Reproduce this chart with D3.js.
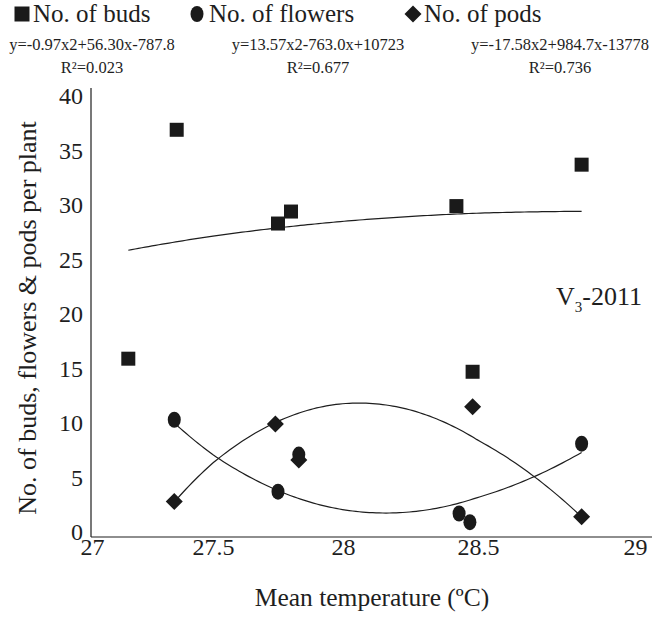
<!DOCTYPE html>
<html><head><meta charset="utf-8">
<script src="https://cdn.jsdelivr.net/npm/d3@7"></script>
<style>html,body{margin:0;padding:0;background:#fff;}svg{display:block;}</style>
</head><body>
<svg id="chart" width="671" height="618"></svg>
<script>
// ---- data ----
const budsTemp = [27.15, 27.35, 27.75, 27.80, 28.42, 28.48, 28.83];
const budsVal  = [15.9, 36.9, 28.3, 29.4, 29.9, 14.7, 33.7];
const flowersTemp = [27.34, 27.75, 27.83, 28.43, 28.47, 28.83];
const flowersVal  = [10.3, 3.7, 7.1, 1.7, 0.9, 8.1];
const podsTemp = [27.34, 27.74, 27.83, 28.48, 28.83];
const podsVal  = [2.8, 9.9, 6.6, 11.5, 1.4];
// fitted polynomial trendlines, y = c0 + c1*(T-28) + c2*(T-28)^2
const budsTrend    = [28.5, 2.1, -1.2];
const flowersTrend = [2.05, -3.91, 12.33];
const podsTrend    = [11.77, 2.07, -17.56];
const seriesNames = ["No. of buds", "No. of flowers", "No. of pods"];
const equations = ["y=-0.97x2+56.30x-787.8", "y=13.57x2-763.0x+10723", "y=-17.58x2+984.7x-13778"];
const rSquared = ["R\u00B2=0.023", "R\u00B2=0.677", "R\u00B2=0.736"];
const xTicks = [27, 27.5, 28, 28.5, 29];
const yTicks = [0, 5, 10, 15, 20, 25, 30, 35, 40];

const FONT = "'Liberation Serif','Times New Roman',serif";
const INK = "#1e1e1e";
const svg = d3.select("#chart");

const plot = {left: 91, right: 652, top: 88, bottom: 537};
const x = d3.scaleLinear().domain(xTicks).range([92, 213, 343, 478, 635]);
const y = d3.scaleLinear().domain([0, 40]).range([532, 96]);

// axes lines
svg.append("line").attr("x1", plot.left).attr("x2", plot.left).attr("y1", plot.top).attr("y2", plot.bottom)
  .attr("stroke", INK).attr("stroke-width", 1.2);
svg.append("line").attr("x1", plot.left).attr("x2", plot.right).attr("y1", plot.bottom).attr("y2", plot.bottom)
  .attr("stroke", INK).attr("stroke-width", 1.2);

// tick labels via d3 axes (no tick marks, no domain)
const yAxis = svg.append("g").attr("transform", `translate(${plot.left - 8},0)`)
  .call(d3.axisLeft(y).tickValues(yTicks).tickSize(0).tickPadding(0).tickFormat(d3.format("d")));
yAxis.select(".domain").remove();
yAxis.selectAll("text").attr("font-family", FONT).attr("font-size", 24).attr("fill", INK);

const xAxis = svg.append("g").attr("transform", `translate(0,${plot.bottom + 1})`)
  .call(d3.axisBottom(x).tickValues(xTicks).tickSize(0).tickPadding(0).tickFormat(d => d));
xAxis.select(".domain").remove();
xAxis.selectAll("text").attr("font-family", FONT).attr("font-size", 24).attr("fill", INK);

// axis titles
svg.append("text").attr("x", 372).attr("y", 606).attr("text-anchor", "middle")
  .attr("font-family", FONT).attr("font-size", 25.5).attr("fill", INK).text("Mean temperature (\u00BAC)");
svg.append("text").attr("transform", "translate(36,318) rotate(-90)").attr("text-anchor", "middle")
  .attr("font-family", FONT).attr("font-size", 26).attr("fill", INK).text("No. of buds, flowers & pods per plant");

// V3-2011 label
const vt = svg.append("text").attr("x", 556).attr("y", 305).attr("font-family", FONT).attr("font-size", 26).attr("fill", INK);
vt.append("tspan").text("V");
vt.append("tspan").attr("font-size", 15).attr("dy", 7).text("3");
vt.append("tspan").attr("dy", -7).text("-2011");

// trendlines drawn through the scales
const line = d3.line().x(d => x(d[0])).y(d => y(d[1]));
function trend(xs, coef) {
  const f = T => coef[0] + coef[1] * (T - 28) + coef[2] * (T - 28) * (T - 28);
  const [lo, hi] = d3.extent(xs);
  const pts = d3.range(0, 121).map(i => { const v = lo + (hi - lo) * i / 120; return [v, f(v)]; });
  svg.append("path").attr("d", line(pts)).attr("fill", "none").attr("stroke", INK).attr("stroke-width", 1.2);
}
trend(budsTemp, budsTrend);
trend(flowersTemp, flowersTrend);
trend(podsTemp, podsTrend);

// markers
const markerFill = "#1a1a1a";
function drawSquare(g, cx, cy, s) {
  g.append("rect").attr("x", cx - s / 2).attr("y", cy - s / 2).attr("width", s).attr("height", s).attr("fill", markerFill);
}
function drawCircle(g, cx, cy) {
  g.append("ellipse").attr("cx", cx).attr("cy", cy).attr("rx", 6.5).attr("ry", 8).attr("fill", markerFill);
}
function drawDiamond(g, cx, cy, r) {
  g.append("path").attr("d", `M${cx},${cy - r}L${cx + r},${cy}L${cx},${cy + r}L${cx - r},${cy}Z`).attr("fill", markerFill);
}
const gm = svg.append("g");
budsTemp.forEach((t, i) => drawSquare(gm, x(t), y(budsVal[i]), 14));
podsTemp.forEach((t, i) => drawDiamond(gm, x(t), y(podsVal[i]), 8.5));
flowersTemp.forEach((t, i) => drawCircle(gm, x(t), y(flowersVal[i])));

// legend
const legX = [33, 209, 424];
const leg = svg.append("g");
drawSquare(leg, 22, 14, 15);
drawCircle(leg, 197, 14);
drawDiamond(leg, 413, 14, 8.5);
seriesNames.forEach((n, i) => {
  leg.append("text").attr("x", legX[i]).attr("y", 22).attr("font-family", FONT).attr("font-size", 25)
    .attr("fill", INK).text(n);
});
const eqX = [92, 318, 560];
equations.forEach((e, i) => {
  leg.append("text").attr("x", eqX[i]).attr("y", 50).attr("text-anchor", "middle").attr("font-family", FONT)
    .attr("font-size", 16.5).attr("fill", INK).text(e);
  leg.append("text").attr("x", eqX[i]).attr("y", 73).attr("text-anchor", "middle").attr("font-family", FONT)
    .attr("font-size", 16.5).attr("fill", INK).text(rSquared[i]);
});
</script>
</body></html>
